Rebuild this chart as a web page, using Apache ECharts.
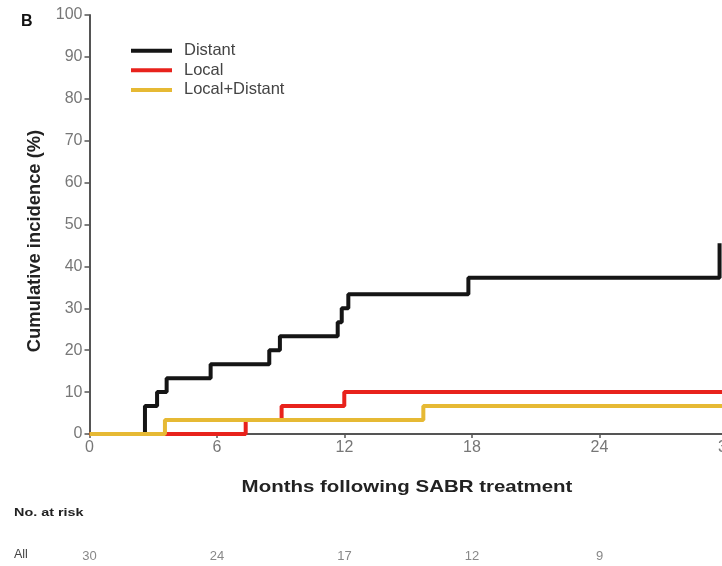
<!DOCTYPE html>
<html>
<head>
<meta charset="utf-8">
<script src="https://cdn.jsdelivr.net/npm/echarts@6/dist/echarts.min.js"></script>
<style>
html,body{margin:0;padding:0;background:#fff;}
#c{width:722px;height:566px;}
</style>
</head>
<body>
<div id="c"></div>
<script>
// Data (months, cumulative incidence %)
const seriesNames = ['Distant', 'Local', 'Local+Distant'];
const distant = [[0,0],[2.61,6.67],[3.18,10],[3.63,13.33],[5.70,16.67],[8.46,20],[8.96,23.33],[11.68,26.67],[11.87,30],[12.18,33.33],[17.83,37.3],[29.65,45.5]];
const local = [[0,0],[7.35,3.33],[9.04,6.67],[11.99,10],[30,10]];
const localDistant = [[0,0],[3.55,3.33],[15.71,6.67],[30,6.67]];
const xTicks = [0, 6, 12, 18, 24, 30];
const atRisk = ['30', '24', '17', '12', '9', '5'];

const FONT = '"Liberation Sans", Arial, sans-serif';
const chart = echarts.init(document.getElementById('c'), null, {renderer: 'canvas'});

const colors = ['#151515', '#e8221c', '#e6b934'];

chart.setOption({
  animation: false,
  backgroundColor: '#ffffff',
  textStyle: {fontFamily: FONT},
  grid: [
    {left: 89.5, width: 637.5, top: 15, bottom: 132, containLabel: false, outerBoundsMode: 'none'},
    {left: 89.5, width: 637.5, top: 549, height: 1, containLabel: false, outerBoundsMode: 'none'}
  ],
  legend: {
    orient: 'vertical',
    left: 131,
    top: 41.7,
    padding: 0,
    itemWidth: 41,
    itemHeight: 4,
    itemGap: 1.6,
    icon: 'rect',
    textStyle: {fontSize: 16.5, color: '#444', fontFamily: FONT, lineHeight: 18, padding: [0,0,0,7]},
    data: seriesNames
  },
  xAxis: [
    {
      type: 'value', gridIndex: 0, min: 0, max: 30, interval: 6,
      axisLine: {show: true, lineStyle: {color: '#555', width: 2}},
      axisTick: {show: true, length: 4, lineStyle: {color: '#555', width: 1.5}},
      axisLabel: {fontSize: 16, color: '#777', margin: 6, fontFamily: FONT, showMaxLabel: true, showMinLabel: true},
      splitLine: {show: false}
    },
    {
      type: 'value', gridIndex: 1, min: 0, max: 30, interval: 6,
      axisLine: {show: false}, axisTick: {show: false}, splitLine: {show: false},
      axisLabel: {fontSize: 13, color: '#888', margin: 0, fontFamily: FONT, showMaxLabel: true,
        formatter: function (v) { const i = xTicks.indexOf(v); return i >= 0 ? atRisk[i] : ''; }}
    }
  ],
  yAxis: [
    {
      type: 'value', gridIndex: 0, min: 0, max: 100, interval: 10,
      axisLine: {show: true, lineStyle: {color: '#555', width: 2}},
      axisTick: {show: true, length: 5, lineStyle: {color: '#555', width: 1.5}},
      axisLabel: {fontSize: 16, color: '#777', margin: 7, fontFamily: FONT},
      splitLine: {show: false}
    },
    {type: 'value', gridIndex: 1, show: false, min: 0, max: 1}
  ],
  series: [
    {name: seriesNames[0], type: 'line', step: 'end', data: distant, symbol: 'none', z: 3,
     lineStyle: {color: colors[0], width: 4}, itemStyle: {color: colors[0]}},
    {name: seriesNames[1], type: 'line', step: 'end', data: local, symbol: 'none', z: 4,
     lineStyle: {color: colors[1], width: 4}, itemStyle: {color: colors[1]}},
    {name: seriesNames[2], type: 'line', step: 'end', data: localDistant, symbol: 'none', z: 5,
     lineStyle: {color: colors[2], width: 4}, itemStyle: {color: colors[2]}}
  ],
  graphic: [
    {type: 'text', left: 21, top: 14, style: {text: 'B', font: 'bold 16px ' + FONT, fill: '#111'}},
    {type: 'text', x: 35, y: 241, rotation: Math.PI / 2,
     style: {text: 'Cumulative incidence (%)', font: 'bold 17px ' + FONT, fill: '#222', x: 0, y: 0, align: 'center', verticalAlign: 'middle'},
     scaleX: 1.08, scaleY: 1.1},
    {type: 'text', x: 407, y: 487, scaleX: 1.24,
     style: {text: 'Months following SABR treatment', font: 'bold 16.5px ' + FONT, fill: '#222', x: 0, y: 0, align: 'center', verticalAlign: 'middle'}},
    {type: 'text', x: 14, y: 513, scaleX: 1.25,
     style: {text: 'No. at risk', font: 'bold 11.5px ' + FONT, fill: '#222', x: 0, y: 0, align: 'left', verticalAlign: 'middle'}},
    {type: 'text', x: 14, y: 555,
     style: {text: 'All', font: '12.5px ' + FONT, fill: '#444', x: 0, y: 0, align: 'left', verticalAlign: 'middle'}}
  ]
});
</script>
</body>
</html>
